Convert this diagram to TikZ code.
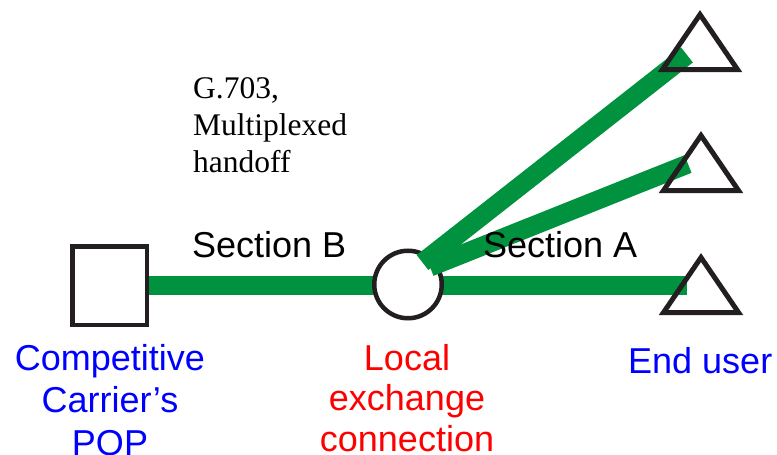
\documentclass[tikz,border=0pt]{standalone}
\usepackage{fontspec}
\setmainfont{Liberation Serif}
\setsansfont{Liberation Sans}
\usetikzlibrary{backgrounds,positioning}
\definecolor{linkgreen}{RGB}{0,146,63}
\definecolor{ink}{RGB}{35,31,32}
\definecolor{sitered}{RGB}{255,0,0}
\definecolor{siteblue}{RGB}{0,0,255}
\tikzset{
  site/.style={
    draw=ink,
    line width=4.5pt,
    fill=white,
    inner sep=0pt
  },
  link/.style={
    draw=linkgreen,
    line width=19pt
  },
  tag/.style={
    font=\sffamily\fontsize{36}{43}\selectfont,
    align=center,
    inner sep=0pt
  },
  note/.style={
    font=\fontsize{31.5}{37}\selectfont,
    align=left,
    inner sep=0pt
  },
  enduser/.pic={
    \draw[ink,line width=5pt,line join=miter] (-37.5,0) -- (0,-55) -- (37.5,0) -- cycle;
  }
}
\begin{document}
\begin{tikzpicture}[x=1pt,y=-1pt]
\useasboundingbox (0,0) rectangle (777,455);
\node[site,minimum width=74.5pt,minimum height=78.5pt] (pop) at (109.5,285.5) {};
\node[site,circle,minimum size=67.5pt] (lec) at (408,284.5) {};
\coordinate (end1) at (687,55);
\coordinate (end2) at (688,164);
\coordinate (end3) at (687,285.5);
\begin{scope}[on background layer]
\draw[link] (pop.east) -- (end3);
\end{scope}
\draw[link] ([shift={(14.5,-22)}]lec.center) -- (end1);
\draw[link] ([shift={(22,-17.5)}]lec.center) -- (end2);
\pic at (700,69.5) {enduser};
\pic at (701,190.5) {enduser};
\pic at (701,312.5) {enduser};
% multi-line nodes sit on the baseline of their last line
\node[tag,anchor=base west] (secB) at (192,257) {Section B};
\node[tag,anchor=base west] (secA) at (483,257) {Section A};
\node[note,anchor=base west] (handoff) at (193,172) {G.703,\\Multiplexed\\handoff};
\node[tag,text=siteblue,anchor=base,font=\sffamily\fontsize{36}{42.5}\selectfont] (popname) at (110,455) {Competitive\\Carrier’s\\POP};
\node[tag,text=sitered,anchor=base,font=\sffamily\fontsize{36}{40.5}\selectfont] (lecname) at (407,451) {Local\\exchange\\connection};
\node[tag,text=siteblue,anchor=base west] (username) at (628,373) {End user};
\end{tikzpicture}
\end{document}
